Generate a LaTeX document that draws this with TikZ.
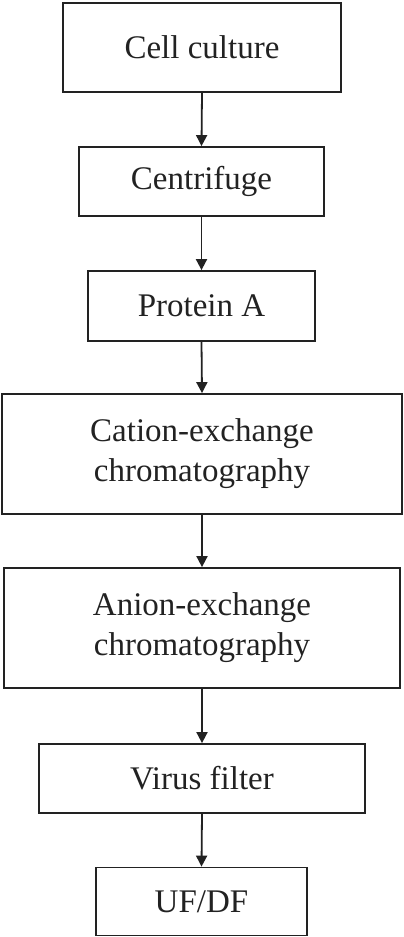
\documentclass[tikz,border=0pt]{standalone}
\usepackage{fontspec}
\setmainfont{Liberation Serif}
\usetikzlibrary{arrows.meta}
\definecolor{ink}{HTML}{222222}
\begin{document}
\begin{tikzpicture}[x=1pt,y=-1pt,
  boxst/.style={draw=ink,line width=1.8pt,text=ink,font=\fontsize{33}{40}\selectfont,align=center,inner sep=0pt},
  arr/.style={draw=ink,line width=1.8pt,-{Triangle[width=11pt,length=11pt]}}]
\useasboundingbox (0,0) rectangle (404,937);
\node[boxst,minimum width=278pt,minimum height=89pt] (a) at (202,47.5) {Cell culture};
\node[boxst,minimum width=245pt,minimum height=69pt] (b) at (201.5,181.5) {Centrifuge};
\node[boxst,minimum width=227pt,minimum height=70pt] (c) at (201.5,306) {Protein A};
\node[boxst,minimum width=400pt,minimum height=120pt] (d) at (202,454) {Cation-exchange\\chromatography};
\node[boxst,minimum width=396pt,minimum height=120pt] (e) at (202,628) {Anion-exchange\\chromatography};
\node[boxst,minimum width=326pt,minimum height=69pt] (f) at (202,778.5) {Virus filter};
\node[boxst,minimum width=211pt,minimum height=68pt] (g) at (201.5,901.5) {UF/DF};
\draw[arr] (a.south) -- (b.north);
\draw[arr] (b.south) -- (c.north);
\draw[arr] (c.south) -- (d.north);
\draw[arr] (d.south) -- (e.north);
\draw[arr] (e.south) -- (f.north);
\draw[arr] (f.south) -- (g.north);
\end{tikzpicture}
\end{document}
